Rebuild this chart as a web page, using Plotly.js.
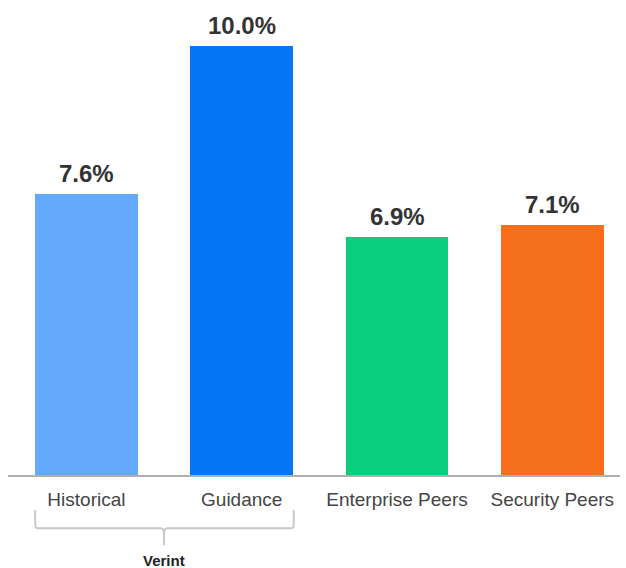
<!DOCTYPE html>
<html><head><meta charset="utf-8">
<script src="https://cdn.plot.ly/plotly-3.0.1.min.js"></script>
<style>body{margin:0;background:#fff}#c{width:626px;height:568px}</style>
</head><body><div id="c"></div>
<script>
const categories = ["Historical", "Guidance", "Enterprise Peers", "Security Peers"];
const values = [7.6, 10.0, 6.9, 7.1];
const labels = ["7.6%", "10.0%", "6.9%", "7.1%"];
const colors = ["#62A9FA", "#0576F4", "#0ACD7D", "#F56F1D"];
const groupLabel = "Verint";

const FONT = "Liberation Sans, Arial, sans-serif";
const xs = categories.map((c, i) => i);

const trace = {
  type: "bar",
  x: xs,
  y: values,
  width: 0.663,
  marker: {color: colors},
  hoverinfo: "skip"
};

const valueAnnotations = labels.map((t, i) => ({
  xref: "x", yref: "y", x: xs[i], y: values[i], text: "<b>" + t + "</b>",
  showarrow: false, xanchor: "center", yanchor: "bottom", yshift: 5,
  font: {family: FONT, size: 24, color: "#333333"}
}));

const layout = {
  width: 626, height: 568,
  margin: {l: 8, r: 6, t: 0, b: 93},
  paper_bgcolor: "#fff", plot_bgcolor: "#fff",
  showlegend: false,
  bargap: 0,
  xaxis: {
    range: [-0.505, 3.436],
    tickvals: xs, ticktext: categories,
    showline: true, linecolor: "#b0b0b0", linewidth: 2,
    showgrid: false, zeroline: false, ticks: "",
    ticklabelstandoff: 6,
    tickfont: {family: FONT, size: 19, color: "#444"},
    fixedrange: true
  },
  yaxis: {range: [3.04, 10.75], visible: false, showgrid: false, zeroline: false},
  shapes: [{
    type: "path", xref: "x", yref: "paper",
    path: "M -0.33,-0.074 L -0.33,-0.102 Q -0.33,-0.112 -0.315,-0.112 L 0.48,-0.112 Q 0.5,-0.112 0.5,-0.125 L 0.5,-0.148 M 0.5,-0.125 Q 0.5,-0.112 0.52,-0.112 L 1.32,-0.112 Q 1.335,-0.112 1.335,-0.102 L 1.335,-0.074",
    line: {color: "#c8c8c8", width: 2}
  }],
  annotations: valueAnnotations.concat([{
    xref: "x", yref: "paper", x: 0.5, y: -0.158, text: "<b>" + groupLabel + "</b>",
    showarrow: false, font: {family: FONT, size: 15, color: "#222"},
    xanchor: "center", yanchor: "top"
  }])
};
Plotly.newPlot("c", [trace], layout, {displayModeBar: false, staticPlot: true});
</script></body></html>
